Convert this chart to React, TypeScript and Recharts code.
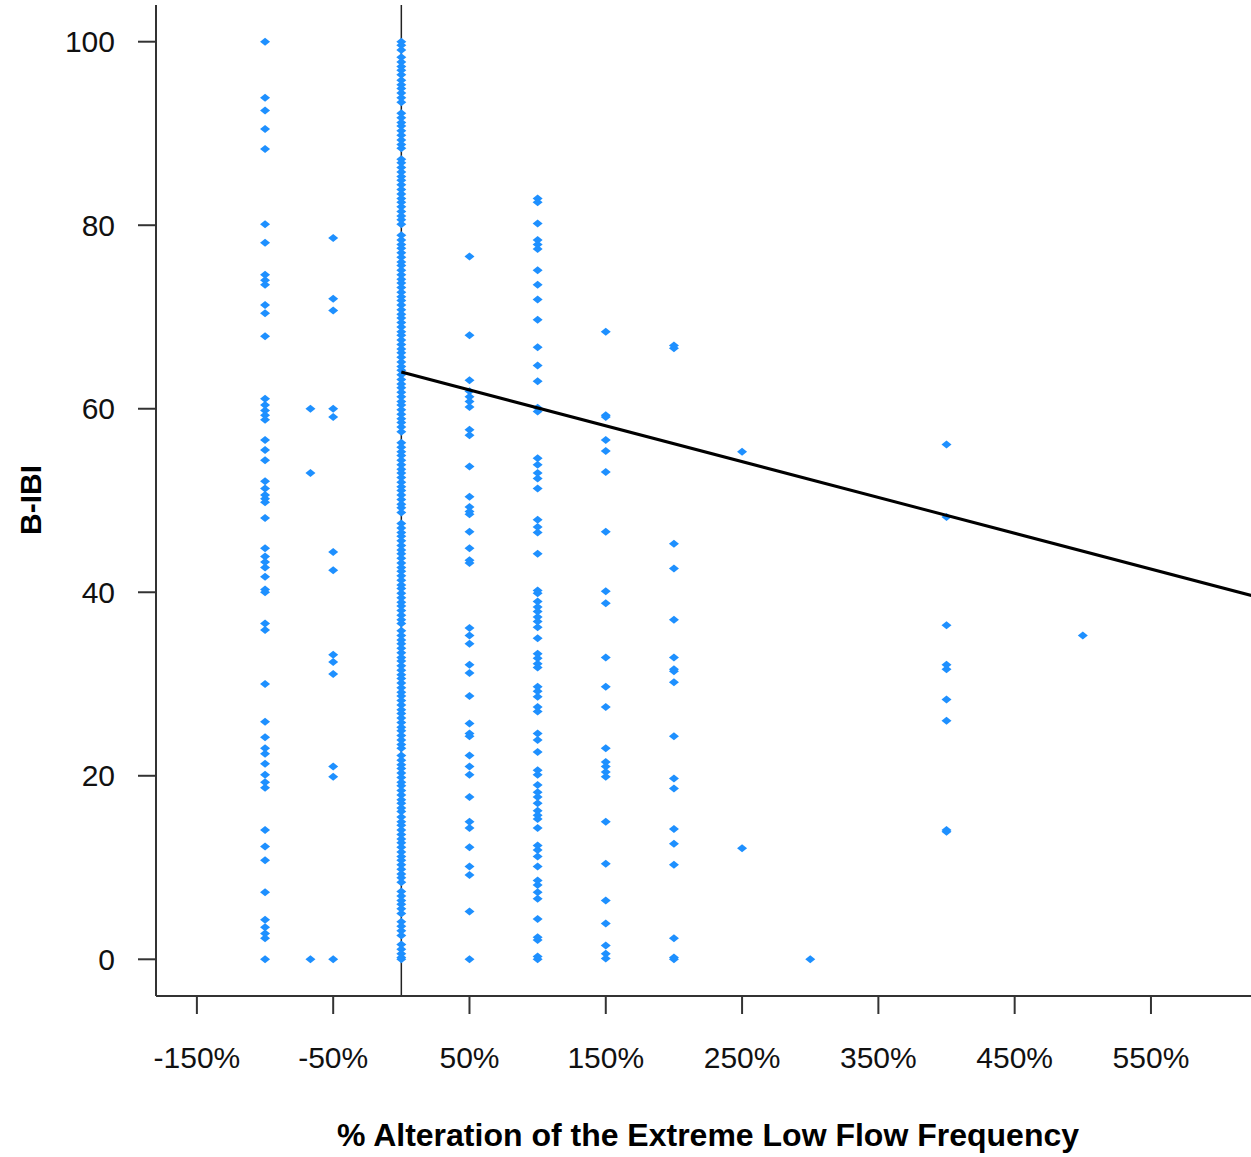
import React from 'react';
import {
  ScatterChart,
  Scatter,
  XAxis,
  YAxis,
  ReferenceLine,
} from 'recharts';

// B-IBI scores of the sites, one list per % alteration group
const colM100 = [100, 93.9, 92.5, 90.5, 88.3, 80.1, 78.1, 74.6, 74.0, 73.5, 71.3, 70.4, 67.9, 61.1, 60.4, 59.8, 59.3, 58.8, 56.6, 55.5, 54.4, 52.1, 51.3, 50.6, 50.2, 49.8, 48.1, 44.8, 43.9, 43.3, 42.7, 41.7, 40.3, 40.0, 36.6, 35.9, 30.0, 25.9, 24.2, 23.0, 22.4, 21.3, 20.1, 19.3, 18.7, 14.1, 12.3, 10.8, 7.3, 4.3, 3.5, 2.8, 2.3, 0];
const colM67 = [60.0, 53.0, 0];
const colM50 = [78.6, 72.0, 70.7, 60.0, 59.1, 44.4, 42.4, 33.2, 32.4, 31.1, 21.0, 19.9, 0];
const col0 = [
  100.0, 99.6, 99.1, 98.3, 97.8, 97.3, 96.9, 96.4, 95.8, 95.3, 94.9, 94.4, 93.9, 93.4, 92.2, 91.7, 91.2, 90.8, 90.3, 89.8,
  89.3, 88.8, 88.4, 87.2, 86.8, 86.3, 85.8, 85.3, 84.9, 84.4, 83.9, 83.4, 82.9, 82.5, 82.0, 81.5, 81.0, 80.6, 80.1, 78.9,
  78.4, 77.9, 77.5, 77.0, 76.5, 76.0, 75.6, 75.1, 74.6, 74.1, 73.7, 73.2, 72.7, 72.2, 71.8, 71.3, 70.8, 70.3, 69.9, 69.4,
  68.9, 68.4, 68.0, 67.5, 67.0, 66.5, 66.1, 65.6, 65.1, 64.6, 64.2, 63.7, 63.2, 62.7, 62.3, 61.8, 61.3, 60.8, 60.4, 59.9,
  59.4, 58.9, 58.5, 58.0, 57.5, 56.3, 55.8, 55.3, 54.9, 54.4, 53.9, 53.4, 53.0, 52.5, 52.0, 51.5, 51.1, 50.6, 50.1, 49.6,
  49.2, 48.7, 47.5, 47.0, 46.5, 46.1, 45.6, 45.1, 44.6, 44.2, 43.7, 43.2, 42.7, 42.3, 41.8, 41.3, 40.8, 40.4, 39.9, 39.4,
  38.9, 38.5, 38.0, 37.5, 37.0, 36.6, 35.8, 35.3, 34.8, 34.4, 33.9, 33.4, 32.9, 32.5, 32.0, 31.5, 31.0, 30.6, 30.1, 29.6,
  29.1, 28.7, 28.2, 27.7, 27.2, 26.8, 26.3, 25.8, 25.3, 24.9, 24.4, 23.9, 23.4, 23.0, 22.2, 21.7, 21.2, 20.8, 20.3, 19.8,
  19.3, 18.9, 18.4, 17.9, 17.4, 17.0, 16.5, 16.1, 15.5, 15.0, 14.6, 14.1, 13.6, 13.1, 12.7, 12.2, 11.7, 11.2, 10.8, 10.3,
  9.8, 9.3, 8.9, 8.4, 7.4, 6.9, 6.4, 6.0, 5.5, 5.0, 4.1, 3.6, 3.1, 2.6, 1.6, 1.1, 0.6, 0.2, 0,
];
const col50 = [76.6, 68.0, 63.1, 61.9, 61.3, 60.8, 60.2, 57.7, 57.1, 53.7, 50.4, 49.3, 48.8, 48.5, 46.6, 44.8, 43.5, 43.2, 36.1, 35.3, 34.4, 32.1, 31.2, 28.7, 25.7, 24.6, 24.3, 22.2, 21.0, 20.1, 17.7, 15.0, 14.3, 12.2, 10.1, 9.2, 5.2, 0];
const col100 = [82.9, 82.5, 80.2, 78.4, 77.9, 77.4, 75.1, 73.5, 71.9, 69.7, 66.7, 64.7, 63.0, 60.1, 59.7, 54.6, 53.9, 53.0, 52.4, 51.3, 47.9, 47.1, 46.5, 44.2, 40.2, 39.9, 39.0, 38.4, 37.9, 37.3, 36.8, 36.2, 35.0, 33.3, 32.8, 32.2, 31.8, 29.7, 29.2, 28.6, 27.5, 27.0, 24.6, 23.9, 22.6, 20.6, 20.1, 19.0, 18.2, 17.7, 17.0, 16.2, 15.7, 15.3, 14.3, 12.4, 11.9, 11.2, 10.1, 8.6, 8.1, 7.3, 6.6, 4.4, 2.4, 2.1, 0.3, 0];
const col150 = [68.4, 59.3, 59.1, 56.6, 55.4, 53.1, 46.6, 40.1, 38.8, 32.9, 29.7, 27.5, 23.0, 21.5, 21.0, 20.4, 19.9, 15.0, 10.4, 6.4, 3.9, 1.5, 0.6, 0.1];
const col200 = [66.9, 66.6, 45.3, 42.6, 37.0, 32.9, 31.6, 31.4, 30.2, 24.3, 19.7, 18.6, 14.2, 12.6, 10.3, 2.3, 0.2, 0];
const col250 = [55.3, 12.1];
const col300 = [0];
const col400 = [56.1, 48.2, 36.4, 32.1, 31.6, 28.3, 26.0, 14.1, 13.9];
const col500 = [35.3];

const groupX = [-100, -66.7, -50, 0, 50, 100, 150, 200, 250, 300, 400, 500];
const groupY = [colM100, colM67, colM50, col0, col50, col100, col150, col200, col250, col300, col400, col500];

// fitted line endpoints
const trendX = [0, 630];
const trendY = [64.0, 39.4];

const xTicks = [-150, -50, 50, 150, 250, 350, 450, 550];
const yTicks = [0, 20, 40, 60, 80, 100];

const points = groupX.flatMap((x, i) => groupY[i].map((y) => ({ x, y })));
const trend = trendX.map((x, i) => ({ x, y: trendY[i] }));

const FONT = '"Liberation Sans", Arial, sans-serif';
const AXIS = '#333';

function Diamond(props: any) {
  const { cx, cy } = props;
  if (cx == null || cy == null) return null;
  return (
    <polygon
      points={`${cx - 5},${cy} ${cx},${cy - 4} ${cx + 5},${cy} ${cx},${cy + 4}`}
      fill="#1E90FF"
    />
  );
}

export default function App() {
  return (
    <div
      style={{
        position: 'absolute',
        left: 0,
        top: 0,
        width: 1251,
        height: 1157,
        overflow: 'hidden',
        background: '#fff',
      }}
    >
      <ScatterChart width={1260} height={1157} margin={{ top: 5, right: 0, bottom: 0, left: 0 }}>
        <XAxis
          xAxisId="top"
          orientation="top"
          type="number"
          dataKey="x"
          domain={[-180, 630]}
          height={0}
          tick={false}
          tickLine={false}
          axisLine={{ stroke: AXIS, strokeWidth: 2 }}
        />
        <XAxis
          type="number"
          dataKey="x"
          domain={[-180, 630]}
          ticks={xTicks}
          tickFormatter={(v) => `${v}%`}
          height={161}
          tickSize={18}
          tickMargin={33}
          interval={0}
          axisLine={{ stroke: AXIS, strokeWidth: 2 }}
          tickLine={{ stroke: AXIS, strokeWidth: 2 }}
          tick={{ fill: '#111', fontSize: 30, fontFamily: FONT }}
          label={{
            content: () => (
              <text
                x={708}
                y={1135}
                textAnchor="middle"
                dominantBaseline="central"
                fontFamily={FONT}
                fontWeight="bold"
                fontSize={32}
                fill="#000"
              >
                % Alteration of the Extreme Low Flow Frequency
              </text>
            ),
          }}
        />
        <YAxis
          type="number"
          dataKey="y"
          domain={[-4, 104]}
          ticks={yTicks}
          width={156}
          tickSize={18}
          tickMargin={23}
          interval={0}
          axisLine={{ stroke: AXIS, strokeWidth: 2 }}
          tickLine={{ stroke: AXIS, strokeWidth: 2 }}
          tick={{ fill: '#111', fontSize: 30, fontFamily: FONT }}
          label={{
            content: () => (
              <text
                x={30}
                y={500}
                transform="rotate(-90 30 500)"
                textAnchor="middle"
                dominantBaseline="central"
                fontFamily={FONT}
                fontWeight="bold"
                fontSize={30}
                fill="#000"
              >
                B-IBI
              </text>
            ),
          }}
        />
        <Scatter data={points} shape={<Diamond />} isAnimationActive={false} />
        <ReferenceLine x={0} stroke="#222" strokeWidth={1.5} />
        <Scatter
          data={trend}
          line={{ stroke: '#000', strokeWidth: 3 }}
          shape={() => <g />}
          isAnimationActive={false}
        />
      </ScatterChart>
    </div>
  );
}
